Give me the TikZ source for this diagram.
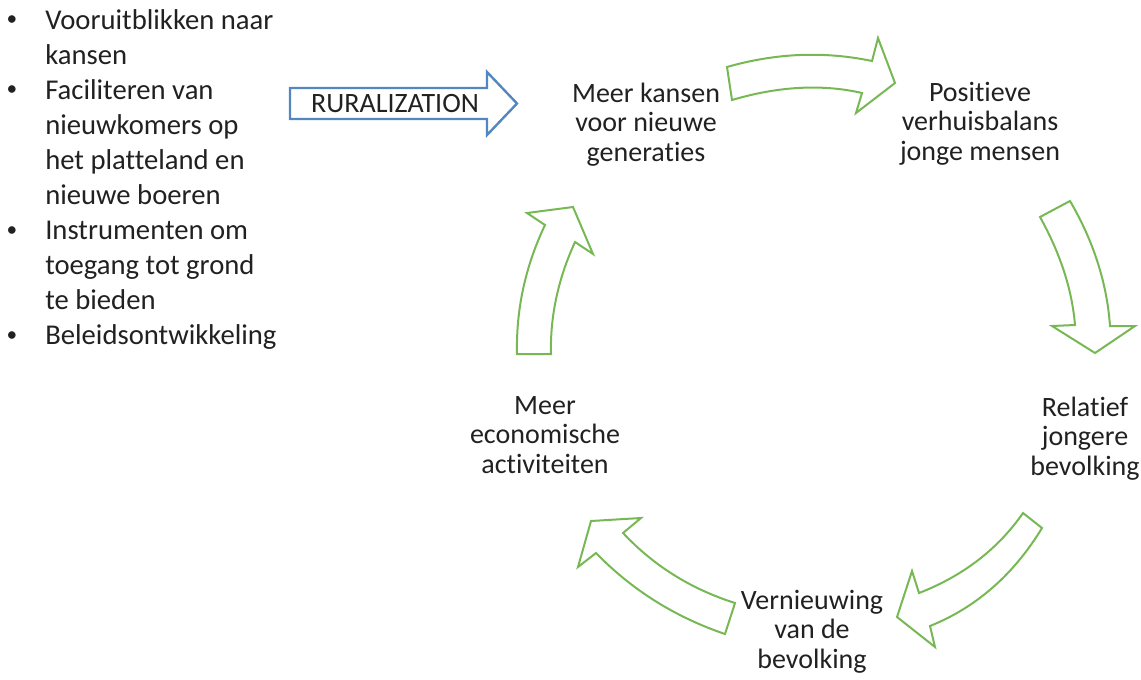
\documentclass[tikz,border=0pt]{standalone}
\usepackage{fontspec}
\setmainfont{Carlito}[Ligatures={NoCommon,NoRequired,NoContextual}]
\usepackage{tikz}
\usetikzlibrary{positioning}
\definecolor{mgreen}{rgb}{0.47, 0.72, 0.33}
\definecolor{mblue}{rgb}{0.33, 0.53, 0.75}
\definecolor{mtext}{rgb}{0.13, 0.13, 0.13}
\tikzset{
  cycletext/.style={mtext, align=center, inner sep=0pt, anchor=base,
    font=\fontsize{21}{22}\selectfont},
  listtext/.style={mtext, align=left, inner sep=0pt, anchor=base west,
    font=\fontsize{21.5}{26.25}\selectfont},
  bulletdot/.style={mtext, inner sep=0pt, anchor=base,
    font=\fontsize{16}{16}\selectfont},
  cyclearrow/.style={mgreen, line width=1.5pt, line join=miter},
  rurarrow/.style={mblue, line width=1.8pt, line join=miter}
}

\begin{document}
\begin{tikzpicture}[x=0.75pt, y=-0.75pt]
      \useasboundingbox (0,0) rectangle (1141,679);

      \node [bulletdot] (dot1) at (12, 25.5) {\textbullet};
      \node [bulletdot] (dot2) at (12, 95.5) {\textbullet};
      \node [bulletdot] (dot3) at (12, 236.5) {\textbullet};
      \node [bulletdot] (dot4) at (12, 341) {\textbullet};

      \node [listtext] (item1) at (45, 64) {Vooruitblikken naar\\kansen};
      \node [listtext] (item2) at (45, 204) {Faciliteren van\\nieuwkomers op\\het platteland en\\nieuwe boeren};
      \node [listtext] (item3) at (45, 309) {Instrumenten om\\toegang tot grond\\te bieden};
      \node [listtext] (item4) at (45, 344) {Beleidsontwikkeling};

      \draw [rurarrow] (290, 88) -- (487, 88) -- (487, 72) -- (517, 103.5)
        -- (487, 135) -- (487, 119) -- (290, 119) -- cycle;
      \node [mtext, inner sep=0pt, anchor=base, font=\fontsize{21}{22}\selectfont]
        (rural) at (395, 112) {RURALIZATION};

      \node [cycletext] (kansen) at (646, 161) {Meer kansen\\voor nieuwe\\generaties};
      \node [cycletext] (balans) at (980, 160) {Positieve\\verhuisbalans\\jonge mensen};
      \node [cycletext] (jonger) at (1085, 475) {Relatief\\jongere\\bevolking};
      \node [cycletext] (vernieuwing) at (812, 668) {Vernieuwing\\van de\\bevolking};
      \node [cycletext] (economie) at (545, 473) {Meer\\economische\\activiteiten};

      \draw [cyclearrow] (727, 67) .. controls (776, 53) and (824, 51) .. (872, 61)
        -- (878, 38) -- (895, 83) -- (856, 113) -- (862, 93)
        .. controls (823, 84) and (779, 86) .. (732, 100) -- cycle;

      \draw [cyclearrow] (1040, 217) -- (1070, 201)
        .. controls (1094, 242) and (1107, 284) .. (1110, 326)
        -- (1135, 326) -- (1095, 353) -- (1052, 326) -- (1075, 325)
        .. controls (1072, 289) and (1060, 253) .. cycle;

      \draw [cyclearrow] (1023, 513) -- (1042, 528)
        .. controls (1014, 574) and (977, 607) .. (930, 626)
        -- (935, 647) -- (897, 617) -- (912, 571) -- (919, 593)
        .. controls (963, 576) and (998, 549) .. cycle;

      \draw [cyclearrow] (735, 603) -- (725, 634)
        .. controls (675, 617) and (632, 590) .. (596, 553)
        -- (578, 567) -- (591, 521) -- (641, 518) -- (623, 533)
        .. controls (654, 566) and (691, 589) .. cycle;

      \draw [cyclearrow] (551, 354) -- (517, 354)
        .. controls (516, 310) and (525, 267) .. (545, 225)
        -- (527, 213) -- (573, 207) -- (593, 254) -- (575, 242)
        .. controls (558, 279) and (550, 317) .. cycle;
    \end{tikzpicture}
\end{document}
